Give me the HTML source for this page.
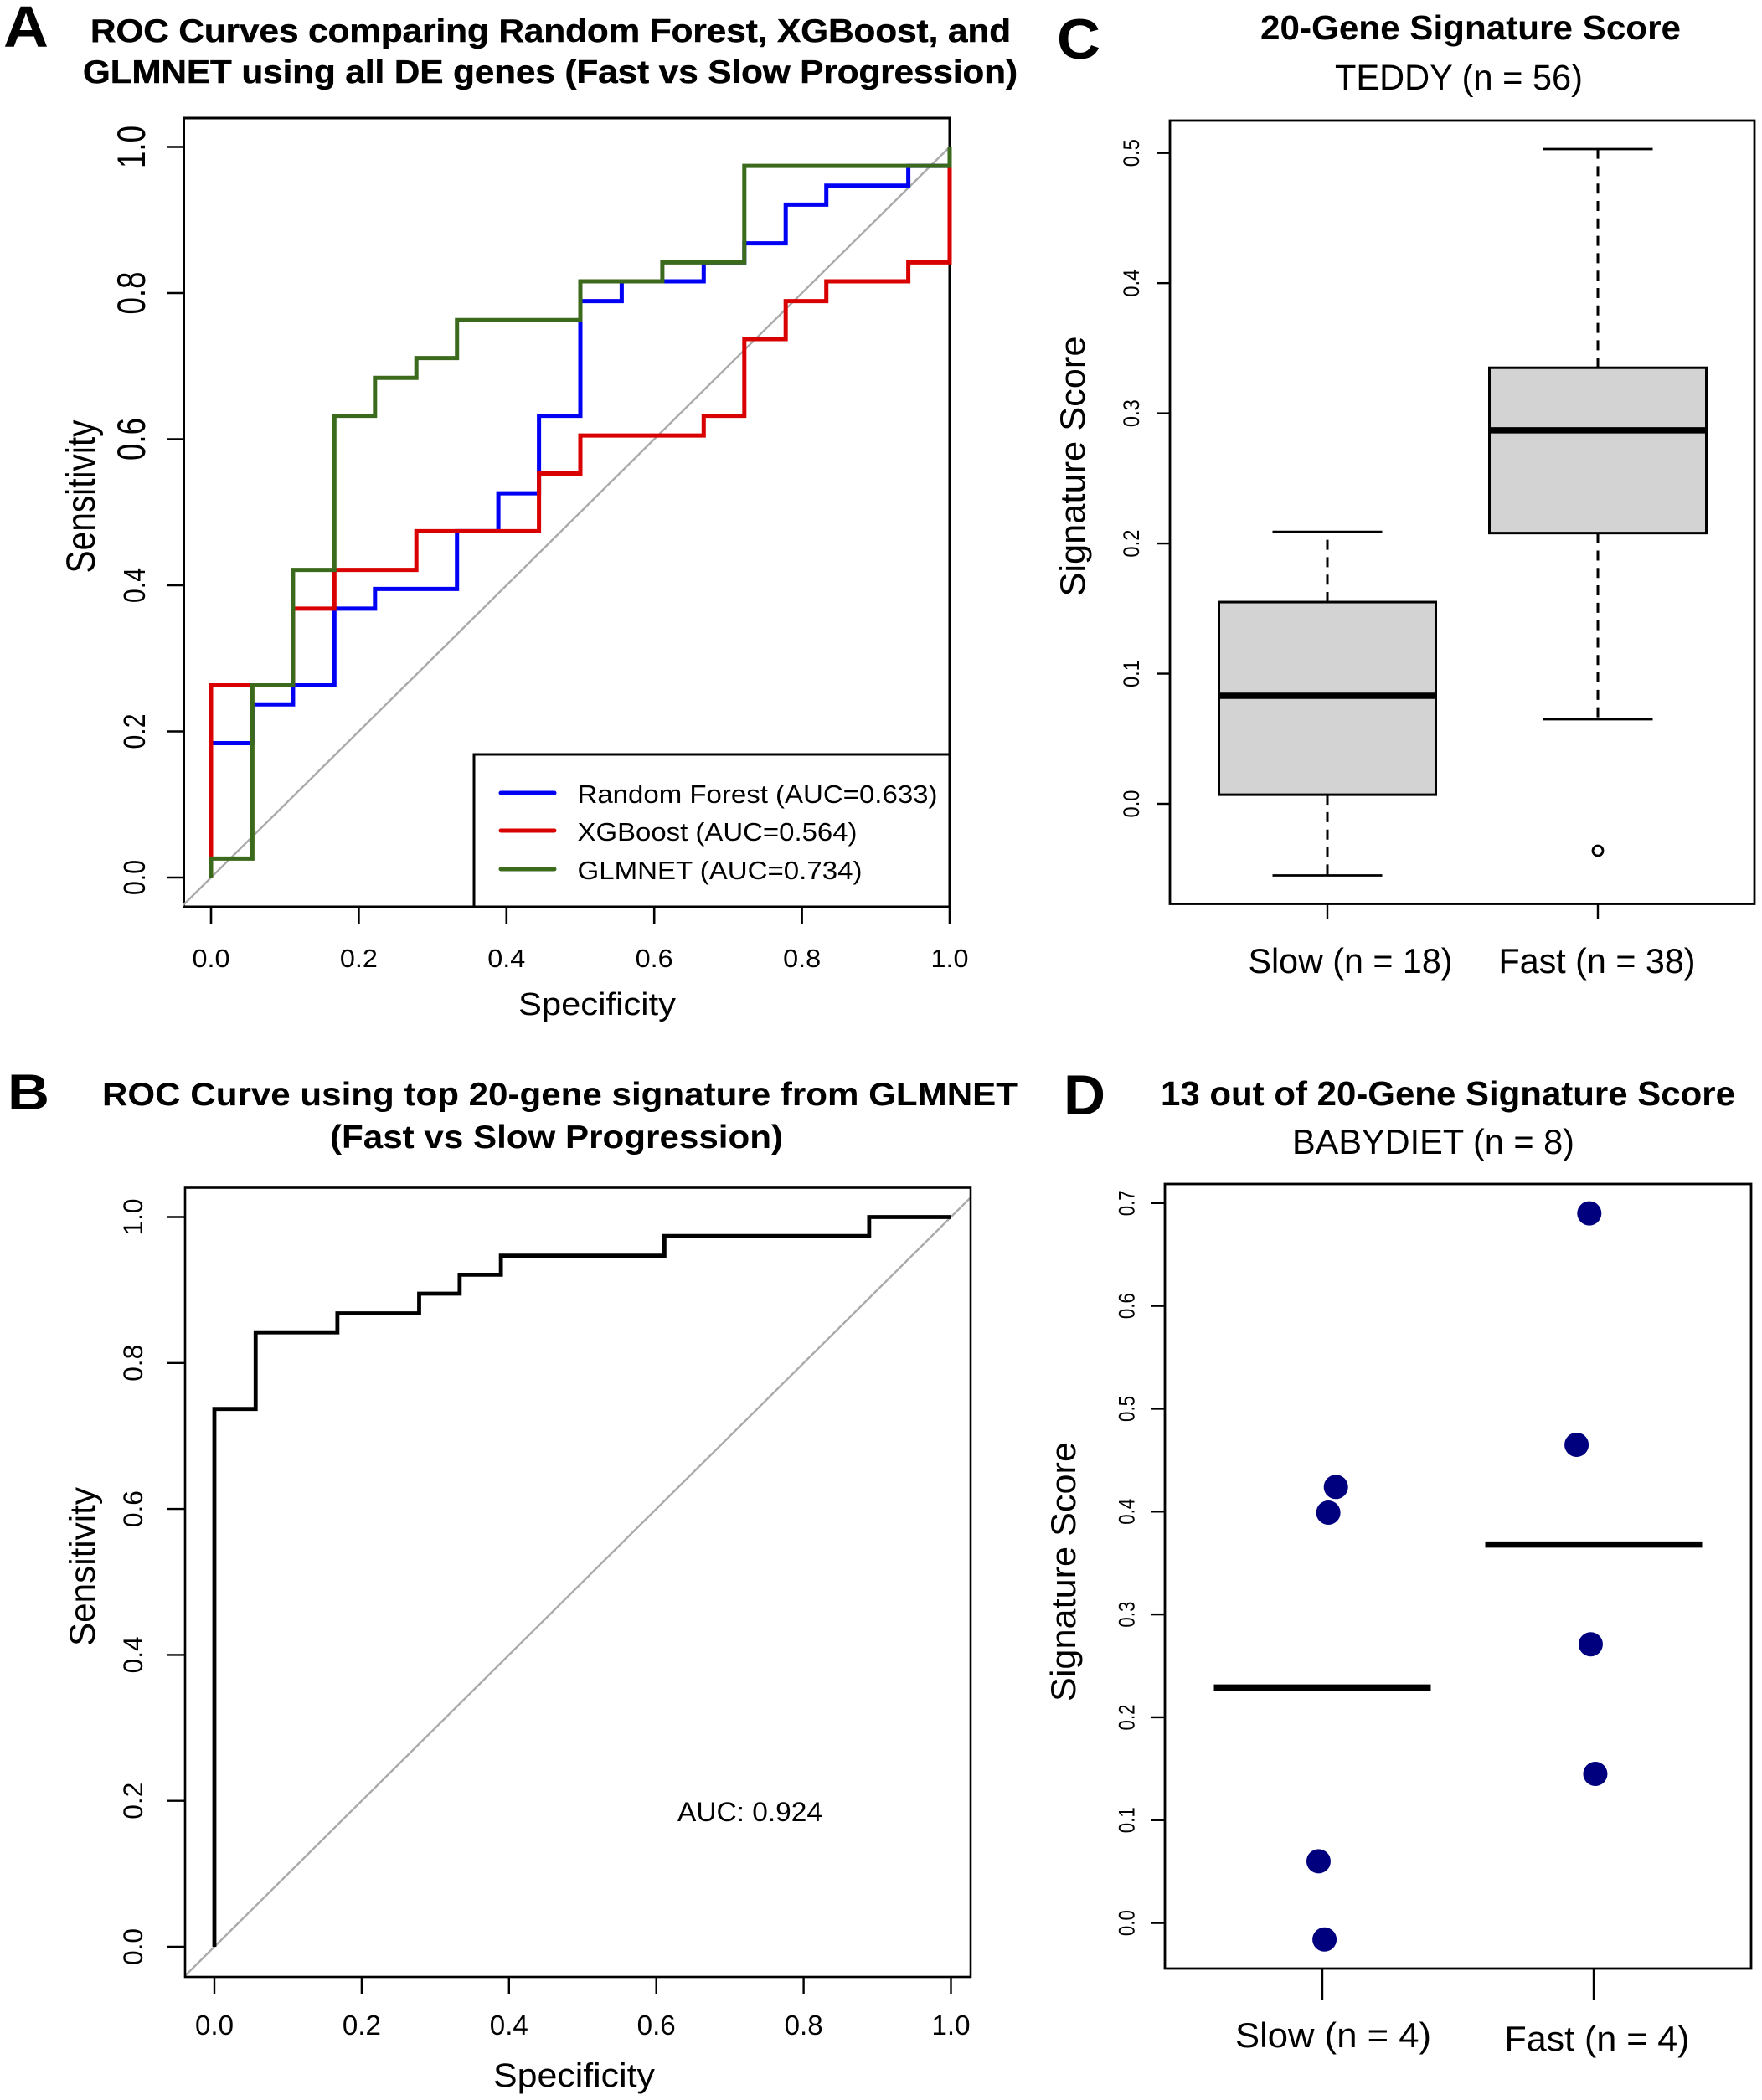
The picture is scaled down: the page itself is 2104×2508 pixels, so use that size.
<!DOCTYPE html>
<html lang="en">
<head>
<meta charset="utf-8">
<title>ROC curves and signature scores</title>
<style>
html,body{margin:0;padding:0;background:#fff}
svg{display:block;font-family:"Liberation Sans",Arial,sans-serif}
text{fill:#000}
.b{font-weight:700}
.h{stroke:#000;stroke-width:0.5px}
</style>
</head>
<body>
<svg id="fig" xmlns="http://www.w3.org/2000/svg" width="2104" height="2508" viewBox="0 0 2104 2508">
<rect width="2104" height="2508" fill="#fff"/>
<defs>
<clipPath id="clipA"><rect x="219" y="141" width="915" height="942"/></clipPath>
<clipPath id="clipB"><rect x="221" y="1418" width="938" height="943"/></clipPath>
</defs>

<g id="panelA">
<text class="b" x="4" y="56" font-size="70" textLength="54" lengthAdjust="spacingAndGlyphs">A</text>
<text class="b h" x="108" y="50" font-size="39" textLength="1099" lengthAdjust="spacingAndGlyphs">ROC Curves comparing Random Forest, XGBoost, and</text>
<text class="b h" x="99" y="99" font-size="39" textLength="1116" lengthAdjust="spacingAndGlyphs">GLMNET using all DE genes (Fast vs Slow Progression)</text>
<text x="619" y="1212" font-size="38" textLength="188" lengthAdjust="spacingAndGlyphs">Specificity</text>
<text transform="translate(113,593) rotate(-90)" text-anchor="middle" font-size="48" textLength="183" lengthAdjust="spacingAndGlyphs">Sensitivity</text>
</g>

<g id="panelB">
<text class="b" x="9" y="1325" font-size="60" textLength="50" lengthAdjust="spacingAndGlyphs">B</text>
<text class="b" x="122" y="1320" font-size="39" textLength="1093" lengthAdjust="spacingAndGlyphs">ROC Curve using top 20-gene signature from GLMNET</text>
<text class="b" x="394" y="1371" font-size="39" textLength="541" lengthAdjust="spacingAndGlyphs">(Fast vs Slow Progression)</text>
<text x="589" y="2492" font-size="40" textLength="193" lengthAdjust="spacingAndGlyphs">Specificity</text>
<text transform="translate(113,1871) rotate(-90)" text-anchor="middle" font-size="43" textLength="190" lengthAdjust="spacingAndGlyphs">Sensitivity</text>
<text x="809" y="2175" font-size="32" textLength="173" lengthAdjust="spacingAndGlyphs">AUC: 0.924</text>
</g>

<g id="panelC">
<text class="b" x="1262" y="70" font-size="68" textLength="52" lengthAdjust="spacingAndGlyphs">C</text>
<text class="b" x="1505" y="47" font-size="41" textLength="502" lengthAdjust="spacingAndGlyphs">20-Gene Signature Score</text>
<text x="1594" y="107" font-size="43" textLength="296" lengthAdjust="spacingAndGlyphs">TEDDY (n = 56)</text>
<text transform="translate(1295,557) rotate(-90)" text-anchor="middle" font-size="42" textLength="311" lengthAdjust="spacingAndGlyphs">Signature Score</text>
</g>

<g id="panelD">
<text class="b" x="1270" y="1331" font-size="68" textLength="50" lengthAdjust="spacingAndGlyphs">D</text>
<text class="b" x="1386" y="1320" font-size="41" textLength="686" lengthAdjust="spacingAndGlyphs">13 out of 20-Gene Signature Score</text>
<text x="1543" y="1378" font-size="42" textLength="337" lengthAdjust="spacingAndGlyphs">BABYDIET (n = 8)</text>
<text transform="translate(1284,1877) rotate(-90)" text-anchor="middle" font-size="42" textLength="310" lengthAdjust="spacingAndGlyphs">Signature Score</text>
</g>
</svg>

<script>
// ---------- Panel A data ----------
const rfSpecificity = [0,0,0.056,0.111,0.167,0.222,0.333,0.389,0.444,0.5,0.556,0.667,0.722,0.778,0.833,0.944,1];
const rfSensitivity = [0,0.184,0.237,0.263,0.368,0.395,0.474,0.526,0.632,0.789,0.816,0.842,0.868,0.921,0.947,0.974,1];
const xgbSpecificity = [0,0,0.111,0.167,0.278,0.444,0.5,0.667,0.722,0.778,0.833,0.944,1];
const xgbSensitivity = [0,0.263,0.368,0.421,0.474,0.553,0.605,0.632,0.737,0.789,0.816,0.842,1];
const glmSpecificity = [0,0,0.056,0.111,0.167,0.222,0.278,0.333,0.5,0.611,0.722,1];
const glmSensitivity = [0,0.026,0.263,0.421,0.632,0.684,0.711,0.763,0.816,0.842,0.974,1];
const legendLabels = ["Random Forest (AUC=0.633)","XGBoost (AUC=0.564)","GLMNET (AUC=0.734)"];
const rocTicks = [0,0.2,0.4,0.6,0.8,1];
const rocTickLabels = ["0.0","0.2","0.4","0.6","0.8","1.0"];

// ---------- Panel B data ----------
const sigSpecificity = [0,0,0.056,0.167,0.278,0.333,0.389,0.611,0.889,1];
const sigSensitivity = [0,0.737,0.842,0.868,0.895,0.921,0.947,0.974,1,1];

// ---------- Panel C data ----------
const teddyGroups = ["Slow (n = 18)","Fast (n = 38)"];
const teddyWhiskerLow = [-0.055,0.065];
const teddyQ1 = [0.007,0.208];
const teddyMedian = [0.083,0.287];
const teddyQ3 = [0.155,0.335];
const teddyWhiskerHigh = [0.209,0.503];
const teddyOutlierGroup = [1];
const teddyOutlierValue = [-0.036];
const teddyTicks = [0,0.1,0.2,0.3,0.4,0.5];
const teddyTickLabels = ["0.0","0.1","0.2","0.3","0.4","0.5"];

// ---------- Panel D data ----------
const babyGroups = ["Slow (n = 4)","Fast (n = 4)"];
const babyMeans = [0.229,0.368];
const babyPointGroup = [0,0,0,0,1,1,1,1];
const babyPointJitter = [0.05,0.022,-0.014,0.008,-0.016,-0.063,-0.011,0.006];
const babyPointValue = [0.424,0.399,0.06,-0.016,0.69,0.465,0.271,0.145];
const babyTicks = [0,0.1,0.2,0.3,0.4,0.5,0.6,0.7];
const babyTickLabels = ["0.0","0.1","0.2","0.3","0.4","0.5","0.6","0.7"];

// ---------- Helpers ----------
const NS = "http://www.w3.org/2000/svg";
function scale(d0,d1,r0,r1){ return v => r0 + (v-d0)*(r1-r0)/(d1-d0); }
function add(parent,tag,name,attrs){
  const el = document.createElementNS(NS,tag);
  
  
  for (const k in attrs) el.setAttribute(k, attrs[k]);
  parent.appendChild(el);
  return el;
}
function line(p,name,x1,y1,x2,y2,color,w,extra){
  return add(p,'line',name,Object.assign({x1,y1,x2,y2,stroke:color,'stroke-width':w},extra||{}));
}
function label(p,name,str,x,y,size,len,rotated){
  const attrs = {'font-size':size,'text-anchor':'middle','textLength':len,'lengthAdjust':'spacingAndGlyphs'};
  if (rotated) attrs.transform = 'translate('+x+','+y+') rotate(-90)';
  else { attrs.x = x; attrs.y = y; }
  const t = add(p,'text',name,attrs);
  t.textContent = str;
  return t;
}
function stepPath(xs,ys,sx,sy){
  let d = 'M'+sx(xs[0])+' '+sy(ys[0]);
  for (let i=1;i<xs.length;i++){
    d += 'H'+sx(xs[i])+'V'+sy(ys[i]);
  }
  return d;
}
function frame(p,name,x,y,w,h,sw){
  add(p,'rect',name,{x,y,width:w,height:h,fill:'none',stroke:'#000','stroke-width':sw});
}

// ---------- Panel A ----------
(function(){
  const p = document.getElementById('panelA');
  const L=219.5,R=1134,T=141,B=1083;
  const x = scale(0,1,252,1134), y = scale(0,1,1048,175.5);
  frame(p,'panel-a-plot-frame',L,T,R-L,B-T,3);
  const clip = add(p,'g','panel-a-plot-area',{'clip-path':'url(#clipA)'});
  line(clip,'panel-a-reference-diagonal',x(-0.05),y(-0.05),x(1),y(1),'#aaaaaa',2.4);
  add(p,'path','random-forest-curve',{d:stepPath(rfSpecificity,rfSensitivity,x,y),fill:'none',stroke:'#0000f5','stroke-width':5});
  add(p,'path','xgboost-curve',{d:stepPath(xgbSpecificity,xgbSensitivity,x,y),fill:'none',stroke:'#d90000','stroke-width':5});
  add(p,'path','glmnet-curve',{d:stepPath(glmSpecificity,glmSensitivity,x,y),fill:'none',stroke:'#3c6a1c','stroke-width':5});
  rocTicks.forEach((v,i)=>{
    line(p,'panel-a-x-tick',x(v),B,x(v),1103,'#000',2.6);
    label(p,'panel-a-x-tick-label',rocTickLabels[i],x(v),1155,31,45);
    line(p,'panel-a-y-tick',200,y(v),L,y(v),'#000',2.6);
    const big = v>0.5;
    label(p,'panel-a-y-tick-label',rocTickLabels[i],173,y(v),big?47:36,big?51:42,true);
  });
  // legend
  const lg = add(p,'g','legend',{});
  add(lg,'rect','legend-box',{x:566,y:901,width:568,height:182,fill:'#fff',stroke:'#000','stroke-width':3});
  const colors=['#0000f5','#d90000','#3c6a1c'];
  const lineYs=[947,992,1038], textYs=[959,1004,1050], widths=[430,334,340];
  legendLabels.forEach((s,i)=>{
    line(lg,'legend-line',598,lineYs[i],662,lineYs[i],colors[i],5,{'stroke-linecap':'round'});
    const t = add(lg,'text','legend-entry',{x:689.5,y:textYs[i],'font-size':31,textLength:widths[i],lengthAdjust:'spacingAndGlyphs'});
    t.textContent = s;
  });
})();

// ---------- Panel B ----------
(function(){
  const p = document.getElementById('panelB');
  const L=221,R=1159,T=1418.5,B=2361;
  const x = scale(0,1,256,1135.5), y = scale(0,1,2325,1453.5);
  const clip = add(p,'g','panel-b-plot-area',{'clip-path':'url(#clipB)'});
  line(clip,'panel-b-reference-diagonal',x(-0.05),y(-0.05),x(1.05),y(1.05),'#aaaaaa',2.4);
  add(clip,'path','signature-roc-curve',{d:stepPath(sigSpecificity,sigSensitivity,x,y),fill:'none',stroke:'#000','stroke-width':4.8});
  frame(p,'panel-b-plot-frame',L,T,R-L,B-T,2.6);
  rocTicks.forEach((v,i)=>{
    line(p,'panel-b-x-tick',x(v),B,x(v),2381,'#000',2.4);
    label(p,'panel-b-x-tick-label',rocTickLabels[i],x(v),2430,33,46);
    line(p,'panel-b-y-tick',200,y(v),L,y(v),'#000',2.4);
    label(p,'panel-b-y-tick-label',rocTickLabels[i],170,y(v),32,44,true);
  });
})();

// ---------- Panel C ----------
(function(){
  const p = document.getElementById('panelC');
  const L=1397,R=2095,T=144,B=1079.5;
  const x = scale(0,1,1585,1908), y = scale(0,0.5,960,182.7);
  frame(p,'panel-c-plot-frame',L,T,R-L,B-T,2.8);
  teddyTicks.forEach((v,i)=>{
    line(p,'panel-c-y-tick',1382,y(v),L,y(v),'#000',2.4);
    label(p,'panel-c-y-tick-label',teddyTickLabels[i],1360,y(v),27,33,true);
  });
  teddyGroups.forEach((g,i)=>{
    const cx = x(i), hw = 129.5, cap = 65.5;
    const dash = {'stroke-dasharray':'12 8.8'};
    line(p,'whisker-lower-'+i,cx,y(teddyQ1[i]),cx,y(teddyWhiskerLow[i]),'#000',3,dash);
    line(p,'whisker-upper-'+i,cx,y(teddyQ3[i]),cx,y(teddyWhiskerHigh[i]),'#000',3,dash);
    line(p,'whisker-cap-lower-'+i,cx-cap,y(teddyWhiskerLow[i]),cx+cap,y(teddyWhiskerLow[i]),'#000',2.8);
    line(p,'whisker-cap-upper-'+i,cx-cap,y(teddyWhiskerHigh[i]),cx+cap,y(teddyWhiskerHigh[i]),'#000',2.8);
    add(p,'rect','box-'+i,{x:cx-hw,y:y(teddyQ3[i]),width:hw*2,height:y(teddyQ1[i])-y(teddyQ3[i]),fill:'#d3d3d3',stroke:'#000','stroke-width':3});
    line(p,'median-'+i,cx-hw,y(teddyMedian[i]),cx+hw,y(teddyMedian[i]),'#000',7.5);
    line(p,'panel-c-x-tick',cx,B,cx,1098,'#000',2.4);
  });
  label(p,'panel-c-x-label-slow',teddyGroups[0],1612.5,1162,42,244);
  label(p,'panel-c-x-label-fast',teddyGroups[1],1907,1162,42,235);
  teddyOutlierValue.forEach((v,i)=>{
    add(p,'circle','outlier',{cx:x(teddyOutlierGroup[i]),cy:y(v),r:6,fill:'none',stroke:'#000','stroke-width':2.8});
  });
})();

// ---------- Panel D ----------
(function(){
  const p = document.getElementById('panelD');
  const L=1391,R=2091,T=1414,B=2351;
  const x = scale(0,1,1579,1903), y = scale(0,0.7,2296.6,1436.8);
  frame(p,'panel-d-plot-frame',L,T,R-L,B-T,2.8);
  babyTicks.forEach((v,i)=>{
    line(p,'panel-d-y-tick',1375,y(v),L,y(v),'#000',2.4);
    label(p,'panel-d-y-tick-label',babyTickLabels[i],1354.6,y(v),27,31,true);
  });
  babyGroups.forEach((g,i)=>{
    line(p,'panel-d-x-tick',x(i),B,x(i),2388,'#000',2.4);
    line(p,'mean-line-'+i,x(i)-129.5,y(babyMeans[i]),x(i)+129.5,y(babyMeans[i]),'#000',7.5);
  });
  label(p,'panel-d-x-label-slow',babyGroups[0],1592,2445,42,234);
  label(p,'panel-d-x-label-fast',babyGroups[1],1907,2449,42,221);
  babyPointValue.forEach((v,i)=>{
    add(p,'circle','signature-point',{cx:x(babyPointGroup[i]+babyPointJitter[i]),cy:y(v),r:14.5,fill:'#00007f'});
  });
})();
</script>
</body>
</html>
